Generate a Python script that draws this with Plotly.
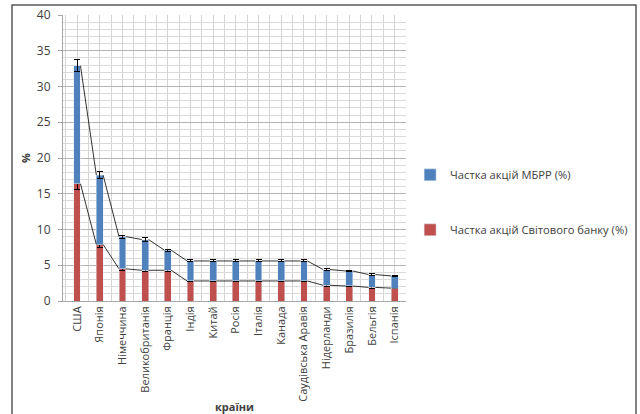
import plotly.graph_objects as go

countries = ["США", "Японія", "Німеччина", "Великобританія", "Франція", "Індія",
             "Китай", "Росія", "Італія", "Канада", "Саудівська Аравія", "Нідерланди",
             "Бразилія", "Бельгія", "Іспанія"]
wb_share = [16.4, 7.9, 4.5, 4.3, 4.3, 2.8, 2.8, 2.8, 2.8, 2.8, 2.8, 2.2, 2.1, 1.9, 1.8]
ibrd_share = [16.5, 9.7, 4.5, 4.3, 2.8, 2.8, 2.8, 2.8, 2.8, 2.8, 2.8, 2.2, 2.1, 1.8, 1.7]
y_ticks = [0, 5, 10, 15, 20, 25, 30, 35, 40]
err_pct = 5

name_wb = "Частка акцій Світового банку (%)"
name_ibrd = "Частка акцій МБРР (%)"

BW = 0.3
FONT = "Open Sans"
xs = list(range(len(countries)))
totals = [a + b for a, b in zip(wb_share, ibrd_share)]

fig = go.Figure()
fig.add_trace(go.Bar(x=xs, y=wb_share, name=name_wb, marker_color="#C0504D", width=BW,
                     legendgroup="wb", legendrank=2,
                     error_y=dict(type="data", array=[v * err_pct / 100 for v in wb_share],
                                  color="#000000", thickness=1, width=3)))
fig.add_trace(go.Bar(x=xs, y=ibrd_share, name=name_ibrd, marker_color="#4F81BD", width=BW,
                     legendgroup="ibrd", legendrank=1,
                     error_y=dict(type="data", array=[v * err_pct / 100 for v in ibrd_share],
                                  color="#000000", thickness=1, width=3)))


def series_line(vals):
    lx, ly = [], []
    for i in range(len(vals) - 1):
        lx += [xs[i] + BW / 2, xs[i + 1] - BW / 2, None]
        ly += [vals[i], vals[i + 1], None]
    return lx, ly


for vals in (wb_share, totals):
    lx, ly = series_line(vals)
    fig.add_trace(go.Scatter(x=lx, y=ly, mode="lines", line=dict(color="#000000", width=0.8),
                             showlegend=False, hoverinfo="skip"))

L, R, T, B = 63, 234, 15, 113
W, H = 640, 414
pw, ph = W - L - R, H - T - B

fig.update_layout(
    width=W, height=H, barmode="stack",
    margin=dict(l=L, r=R, t=T, b=B, autoexpand=False),
    paper_bgcolor="white", plot_bgcolor="white",
    font=dict(family=FONT, size=11, color="#404040"),
    showlegend=True,
    legend=dict(x=1.012, y=0.345, xanchor="left", yanchor="middle",
                traceorder="grouped", tracegroupgap=36,
                font=dict(family=FONT, size=11.2, color="#404040"),
                itemwidth=30, bgcolor="rgba(0,0,0,0)"),
    xaxis=dict(range=[-0.62, 14.5], tickmode="array", tickvals=xs, ticktext=countries,
               tickangle=-90, showgrid=True, gridcolor="#d4d4d4", gridwidth=1,
               minor=dict(dtick=0.5, tick0=-0.5, showgrid=True, gridcolor="#d4d4d4", gridwidth=1),
               showline=True, linecolor="#a6a6a6", linewidth=1, ticks="",
               automargin=False,
               tickfont=dict(family=FONT, size=11, color="#404040"),
               title=dict(text="<b>країни</b>", font=dict(family=FONT, size=11, color="#404040"),
                          standoff=4),
               zeroline=False),
    yaxis=dict(range=[0, 40], tickmode="array", tickvals=y_ticks, showgrid=True,
               gridcolor="#b4b4b4", gridwidth=1,
               minor=dict(dtick=1, showgrid=True, gridcolor="#dadada", gridwidth=1),
               showline=True, linecolor="#a6a6a6", linewidth=1, ticks="outside",
               ticklen=4, tickcolor="#a6a6a6", automargin=False, ticklabelstandoff=5,
               tickfont=dict(family=FONT, size=12, color="#404040"),
               title=dict(text="<b>%</b>", font=dict(family=FONT, size=11, color="#404040"),
                          standoff=4),
               zeroline=False),
)

# outer chart frame
fig.add_shape(type="rect", xref="paper", yref="paper",
              x0=(12 - L) / pw, x1=(636 - L) / pw,
              y0=(H - B - 420) / ph, y1=(H - B - 5) / ph,
              line=dict(color="#595959", width=1.5), fillcolor="rgba(0,0,0,0)", layer="above")

fig.write_html("out.html", config={"displayModeBar": False},
               post_script="document.body.style.margin='0';")
